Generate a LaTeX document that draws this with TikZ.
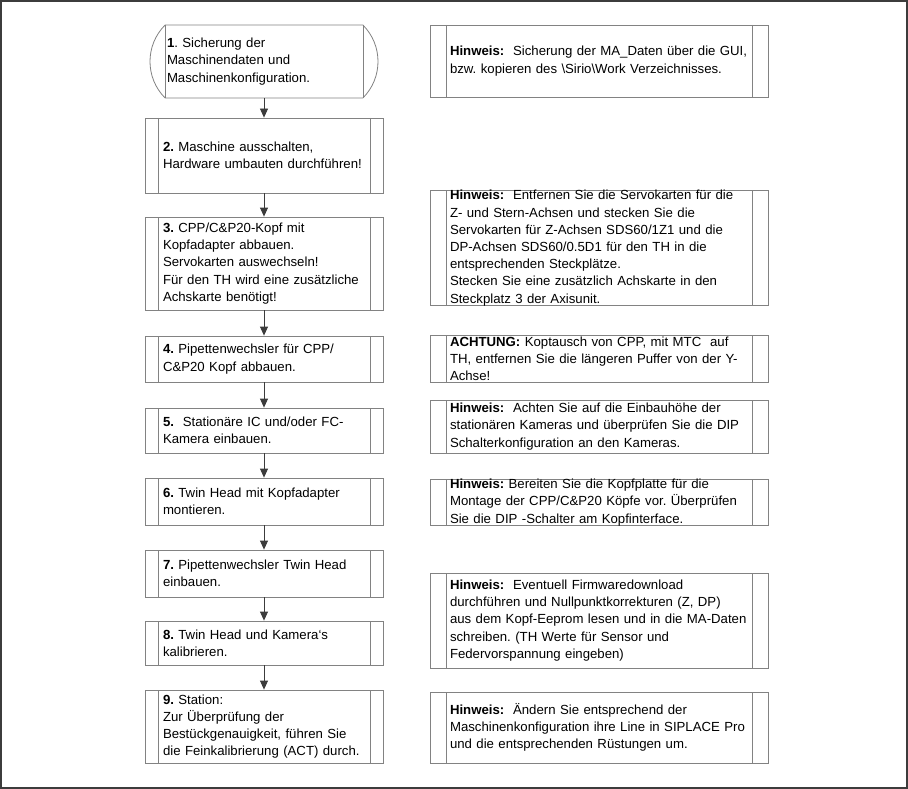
\documentclass[tikz,border=0pt]{standalone}
\usepackage{fontspec}
\setmainfont{Liberation Sans}
\usepackage{tikz}
\usetikzlibrary{arrows.meta}
\usetikzlibrary{shapes.misc}
\definecolor{boxgray}{RGB}{130,130,130}
\definecolor{linegray}{RGB}{60,60,60}
\newcommand{\hinw}{\textbf{Hinweis:}}
\newcommand{\stepnr}[1]{\textbf{#1}}
\frenchspacing
\tikzset{
  inlines/.style={path picture={\draw[boxgray,line width=.8pt]
      ([xshift=#1]path picture bounding box.north west) -- ([xshift=#1]path picture bounding box.south west)
      ([xshift=-#1]path picture bounding box.north east) -- ([xshift=-#1]path picture bounding box.south east);}},
  boxtext/.style={align=left,inner ysep=0pt,font=\fontsize{13.2}{17.2}\selectfont},
  stepbox/.style={boxtext,draw=boxgray,line width=.8pt,rectangle,text width=202pt,inner xsep=18pt,inlines=13pt},
  startbox/.style={boxtext,draw=boxgray,line width=.8pt,rounded rectangle,rounded rectangle arc length=90,
    text width=194pt,inner xsep=0pt,minimum width=228pt},
  notebox/.style={boxtext,draw=boxgray,line width=.8pt,rectangle,text width=298pt,inner xsep=20pt,inlines=16pt},
  flowarrow/.style={draw=linegray,line width=.8pt,-{Triangle[length=9pt,width=8pt]}}
}
\begin{document}
\begin{tikzpicture}[x=1pt,y=-1pt]
\useasboundingbox (0,0) rectangle (908,789);
\draw[linegray,line width=1.2pt] (1,1) rectangle (907,788);
% left column
\node[startbox,minimum height=73pt] (s1) at (264,61.5) {\stepnr{1}. Sicherung der\\Maschinendaten und\\Maschinenkonfiguration.};
\draw[boxgray,line width=.8pt] (s1.north west) -- (s1.south west) (s1.north east) -- (s1.south east);
\node[stepbox,minimum height=75pt] (s2) at (264,155.5) {\stepnr{2.} Maschine ausschalten,\\Hardware umbauten durchführen!};
\node[stepbox,minimum height=93pt] (s3) at (264,263.5) {\stepnr{3.} CPP/C\&P20-Kopf mit\\Kopfadapter abbauen.\\Servokarten auswechseln!\\Für den TH wird eine zusätzliche\\Achskarte benötigt!};
\node[stepbox,minimum height=46pt] (s4) at (264,359) {\stepnr{4.} Pipettenwechsler für CPP/\\C\&P20 Kopf abbauen.};
\node[stepbox,minimum height=45pt] (s5) at (264,430.5) {\stepnr{5.}\ \ Stationäre IC und/oder FC-\\Kamera einbauen.};
\node[stepbox,minimum height=47pt] (s6) at (264,501.5) {\stepnr{6.} Twin Head mit Kopfadapter\\montieren.};
\node[stepbox,minimum height=47pt] (s7) at (264,573.5) {\stepnr{7.} Pipettenwechsler Twin Head\\einbauen.};
\node[stepbox,minimum height=44pt] (s8) at (264,643) {\stepnr{8.} Twin Head und Kamera\symbol{96}s\\kalibrieren.};
\node[stepbox,minimum height=73pt] (s9) at (264,726.5) {\stepnr{9.} Station:\\Zur Überprüfung der\\Bestückgenauigkeit, führen Sie\\die Feinkalibrierung (ACT) durch.};
% right column
\node[notebox,minimum height=72pt] (h1) at (599,61) {\hinw\ \ Sicherung der MA\_Daten über die GUI,\\bzw. kopieren des \textbackslash Sirio\textbackslash Work Verzeichnisses.};
\node[notebox,minimum height=110pt] (h2) at (599,248) {\hinw\ \ Entfernen Sie die Servokarten für die\\Z- und Stern-Achsen und stecken Sie die\\Servokarten für Z-Achsen SDS60/1Z1 und die\\DP-Achsen SDS60/0.5D1 für den TH in die\\entsprechenden Steckplätze.\\Stecken Sie eine zusätzlich Achskarte in den\\Steckplatz 3 der Axisunit.};
\node[notebox,minimum height=47pt] (h3) at (599,358.5) {\textbf{ACHTUNG:} Koptausch von CPP, mit MTC\ \ auf\\TH, entfernen Sie die längeren Puffer von der Y-\\Achse!};
\node[notebox,minimum height=53pt] (h4) at (599,426.5) {\hinw\ \ Achten Sie auf die Einbauhöhe der\\stationären Kameras und überprüfen Sie die DIP\\Schalterkonfiguration an den Kameras.};
\node[notebox,minimum height=45pt] (h5) at (599,502.5) {\hinw\ Bereiten Sie die Kopfplatte für die\\Montage der CPP/C\&P20 Köpfe vor. Überprüfen\\Sie die DIP -Schalter am Kopfinterface.};
\node[notebox,minimum height=95pt] (h6) at (599,620.5) {\hinw\ \ Eventuell Firmwaredownload\\durchführen und Nullpunktkorrekturen (Z, DP)\\aus dem Kopf-Eeprom lesen und in die MA-Daten\\schreiben. (TH Werte für Sensor und\\Federvorspannung eingeben)};
\node[notebox,minimum height=71pt] (h7) at (599,727.5) {\hinw\ \ Ändern Sie entsprechend der\\Maschinenkonfiguration ihre Line in SIPLACE Pro\\und die entsprechenden Rüstungen um.};
% flow
\path (s1.south) edge[flowarrow] (s2.north)
      (s2.south) edge[flowarrow] (s3.north)
      (s3.south) edge[flowarrow] (s4.north)
      (s4.south) edge[flowarrow] (s5.north)
      (s5.south) edge[flowarrow] (s6.north)
      (s6.south) edge[flowarrow] (s7.north)
      (s7.south) edge[flowarrow] (s8.north)
      (s8.south) edge[flowarrow] (s9.north);
\end{tikzpicture}
\end{document}
